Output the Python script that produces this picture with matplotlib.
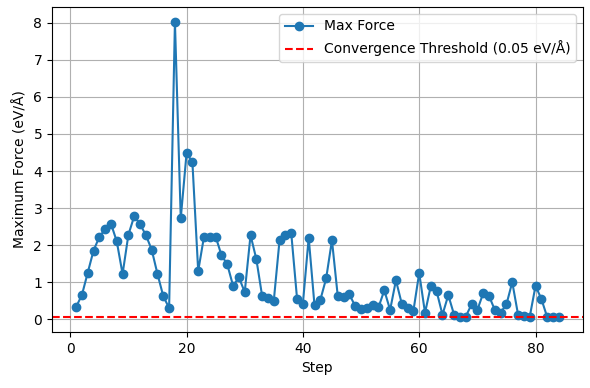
import numpy as np
import matplotlib.pyplot as plt

# max force per optimisation step (eV/Å)
max_force = [
    0.33, 0.65, 1.25, 1.85, 2.22, 2.43, 2.58, 2.10, 1.22, 2.28,
    2.78, 2.57, 2.27, 1.88, 1.22, 0.62, 0.30, 8.03, 2.72, 4.48,
    4.25, 1.30, 2.23, 2.23, 2.23, 1.73, 1.48, 0.90, 1.13, 0.73,
    2.27, 1.62, 0.62, 0.58, 0.50, 2.15, 2.28, 2.32, 0.55, 0.42,
    2.20, 0.37, 0.52, 1.10, 2.13, 0.62, 0.60, 0.67, 0.35, 0.28,
    0.30, 0.37, 0.32, 0.78, 0.25, 1.05, 0.42, 0.30, 0.22, 1.25,
    0.17, 0.90, 0.75, 0.12, 0.65, 0.12, 0.07, 0.07, 0.40, 0.25,
    0.70, 0.63, 0.25, 0.18, 0.40, 1.00, 0.12, 0.08, 0.06, 0.90,
    0.55, 0.06, 0.05, 0.05,
]
steps = np.arange(1, len(max_force) + 1)
threshold = 0.05

fig, ax = plt.subplots(figsize=(5.9, 3.88), dpi=100)
ax.plot(steps, max_force, 'o-', label='Max Force')
ax.axhline(threshold, color='r', linestyle='--',
           label=f'Convergence Threshold ({threshold} eV/Å)')
ax.set_xlabel('Step')
ax.set_ylabel('Maximum Force (eV/Å)')
ax.grid(True)
ax.legend()
fig.subplots_adjust(left=0.088, right=0.988, top=0.982, bottom=0.144)
fig.savefig('out.png')
